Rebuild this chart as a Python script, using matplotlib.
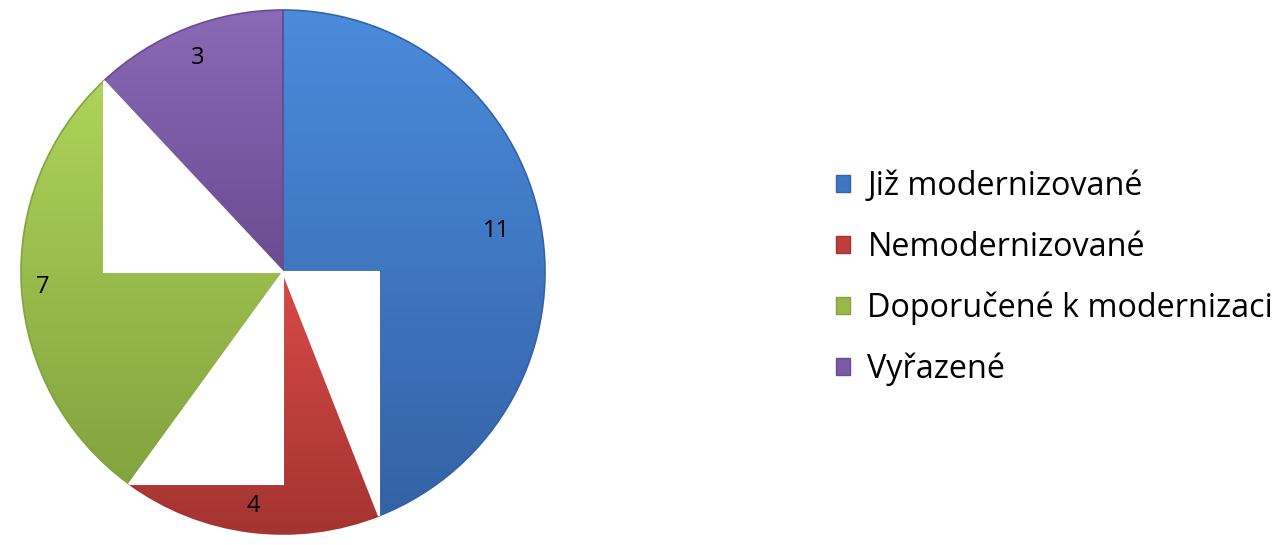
import numpy as np
import matplotlib.pyplot as plt
from matplotlib.colors import LinearSegmentedColormap
from matplotlib.patches import Polygon

plt.rcParams["font.family"] = ["Open Sans", "DejaVu Sans"]

categories = ["Již modernizované", "Nemodernizované", "Doporučené k modernizaci", "Vyřazené"]
values = [11, 4, 7, 3]

mid_colors = ["#3F76C4", "#BF3E3B", "#98B94A", "#7A5AA3"]
top_colors = ["#4A8BDB", "#D84A48", "#AED35A", "#8A69B6"]
bottom_colors = ["#3462A6", "#A43431", "#83A33E", "#6A4C91"]
label_dist = [0.83, 0.9, 0.92, 0.88]

fig = plt.figure(figsize=(12.76, 5.45), dpi=100)
ax = fig.add_axes([21 / 1276, 11 / 545, 524 / 1276, 524 / 545])

wedges, _ = ax.pie(values, colors=mid_colors, startangle=90, counterclock=False,
                   radius=1, wedgeprops=dict(linewidth=0))

grad = np.linspace(0, 1, 256).reshape(-1, 1)
for w, c_top, c_bot in zip(wedges, top_colors, bottom_colors):
    bb = w.get_path().get_extents()
    cmap = LinearSegmentedColormap.from_list("g", [c_top, c_bot])
    im = ax.imshow(grad, cmap=cmap, aspect="auto", origin="upper",
                   extent=(bb.x0, bb.x1, bb.y0, bb.y1), zorder=1.5)
    im.set_clip_path(w)
    w.set_edgecolor(c_bot)
    w.set_linewidth(1.2)
    w.set_zorder(1.6)
    w.set_facecolor("none")

# white "holes" of the original rendering: part of each slice inside the box
# between the centre and the slice's end point
for w in wedges:
    t1, t2 = w.theta1, w.theta2
    ex, ey = np.cos(np.radians(t1)), np.sin(np.radians(t1))
    axis = np.ceil(t1 / 90.0) * 90.0
    if axis > t2 or abs(ex) < 1e-6 or abs(ey) < 1e-6:
        continue
    if int(round(axis / 90.0)) % 2 == 0:
        corner = (ex, 0)
    else:
        corner = (0, ey)
    ax.add_patch(Polygon([(0, 0), corner, (ex, ey)], closed=True,
                         facecolor="white", edgecolor="white", lw=1.5, zorder=2))

for w, v, d in zip(wedges, values, label_dist):
    mid = np.radians((w.theta1 + w.theta2) / 2)
    ax.text(d * np.cos(mid), d * np.sin(mid), str(v), ha="center", va="center",
            fontsize=17, color="black", zorder=3)

ax.set_xlim(-1, 1)
ax.set_ylim(-1, 1)
ax.set_aspect("equal")
ax.axis("off")

leg = fig.legend(handles=wedges, labels=categories, loc="center left",
                 bbox_to_anchor=(836 / 1276, 0.49), frameon=False, fontsize=23.3,
                 handlelength=0.42, handleheight=0.42, handletextpad=0.55,
                 labelspacing=0.85, borderpad=0, borderaxespad=0)
for h, fc, ec in zip(leg.legend_handles, mid_colors, bottom_colors):
    h.set_facecolor(fc)
    h.set_edgecolor(ec)
    h.set_linewidth(1.0)

fig.savefig("out.png", dpi=100)
